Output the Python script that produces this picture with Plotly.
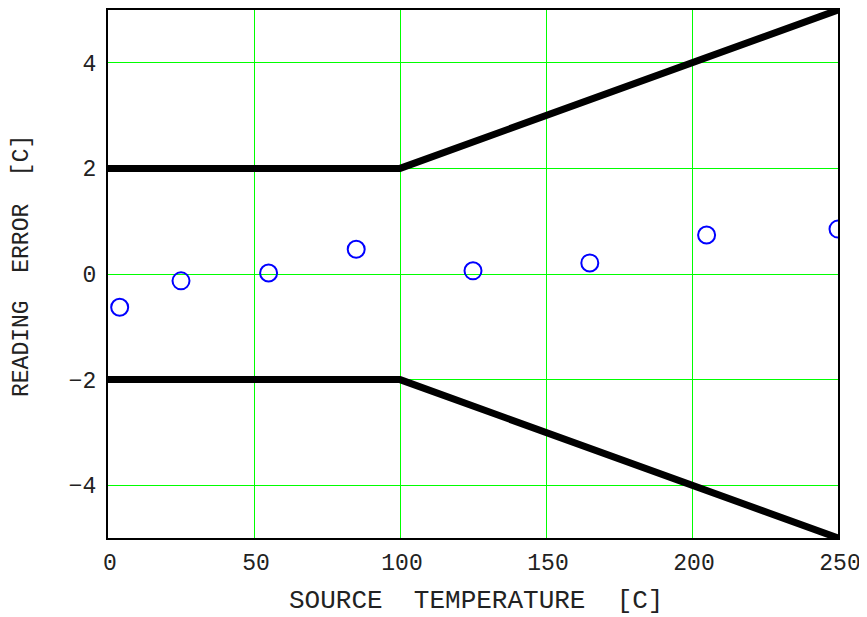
import plotly.graph_objects as go

# Measured data points
src_temp = [4, 25, 55, 85, 125, 165, 205, 250]
read_err = [-0.63, -0.13, 0.02, 0.47, 0.06, 0.21, 0.74, 0.85]

# Tolerance limits
lim_x = [0, 100, 250]
upper_lim = [2, 2, 5]
lower_lim = [-2, -2, -5]

x_ticks = [0, 50, 100, 150, 200, 250]
y_ticks = [-4, -2, 0, 2, 4]

FONT = "Courier New, Liberation Mono, monospace"
NB = "\u00a0"

fig = go.Figure()
fig.add_trace(go.Scatter(x=lim_x, y=upper_lim, mode="lines",
                         line=dict(color="black", width=7), showlegend=False))
fig.add_trace(go.Scatter(x=lim_x, y=lower_lim, mode="lines",
                         line=dict(color="black", width=7), showlegend=False))
fig.add_trace(go.Scatter(x=src_temp, y=read_err, mode="markers",
                         marker=dict(symbol="circle-open", size=17,
                                     color="#0000ff", line=dict(width=2, color="#0000ff")),
                         showlegend=False))

axis_common = dict(showline=True, mirror=True, linecolor="black", linewidth=2,
                   showgrid=True, gridcolor="#00ff00", gridwidth=1,
                   zeroline=False, ticks="",
                   tickfont=dict(family=FONT, size=23, color="#222222"))

fig.update_xaxes(range=[0, 250], tickvals=x_ticks, ticklabelstandoff=2,
                 ticklabelshift=2, **axis_common)
fig.update_yaxes(range=[-5, 5], tickvals=y_ticks, ticklabelstandoff=5, **axis_common)

fig.add_annotation(text=f"SOURCE{NB*2}TEMPERATURE{NB*2}[C]", xref="paper", yref="paper",
                   x=0.5, y=0, xanchor="center", yanchor="middle", showarrow=False,
                   xshift=3, yshift=-63, font=dict(family=FONT, size=26, color="#222222"))
fig.add_annotation(text=f"READING{NB*2}ERROR{NB*2}[C]", xref="paper", yref="paper",
                   x=0, y=0.5, xanchor="center", yanchor="middle", showarrow=False,
                   textangle=-90, xshift=-86, yshift=8,
                   font=dict(family=FONT, size=23, color="#222222"))

# page body has an 8px default margin, so the figure is sized to fit the window
fig.update_layout(width=859, height=609,
                  margin=dict(l=100, r=29, t=2, b=79, autoexpand=False),
                  paper_bgcolor="white", plot_bgcolor="white")

fig.write_html("out.html")
